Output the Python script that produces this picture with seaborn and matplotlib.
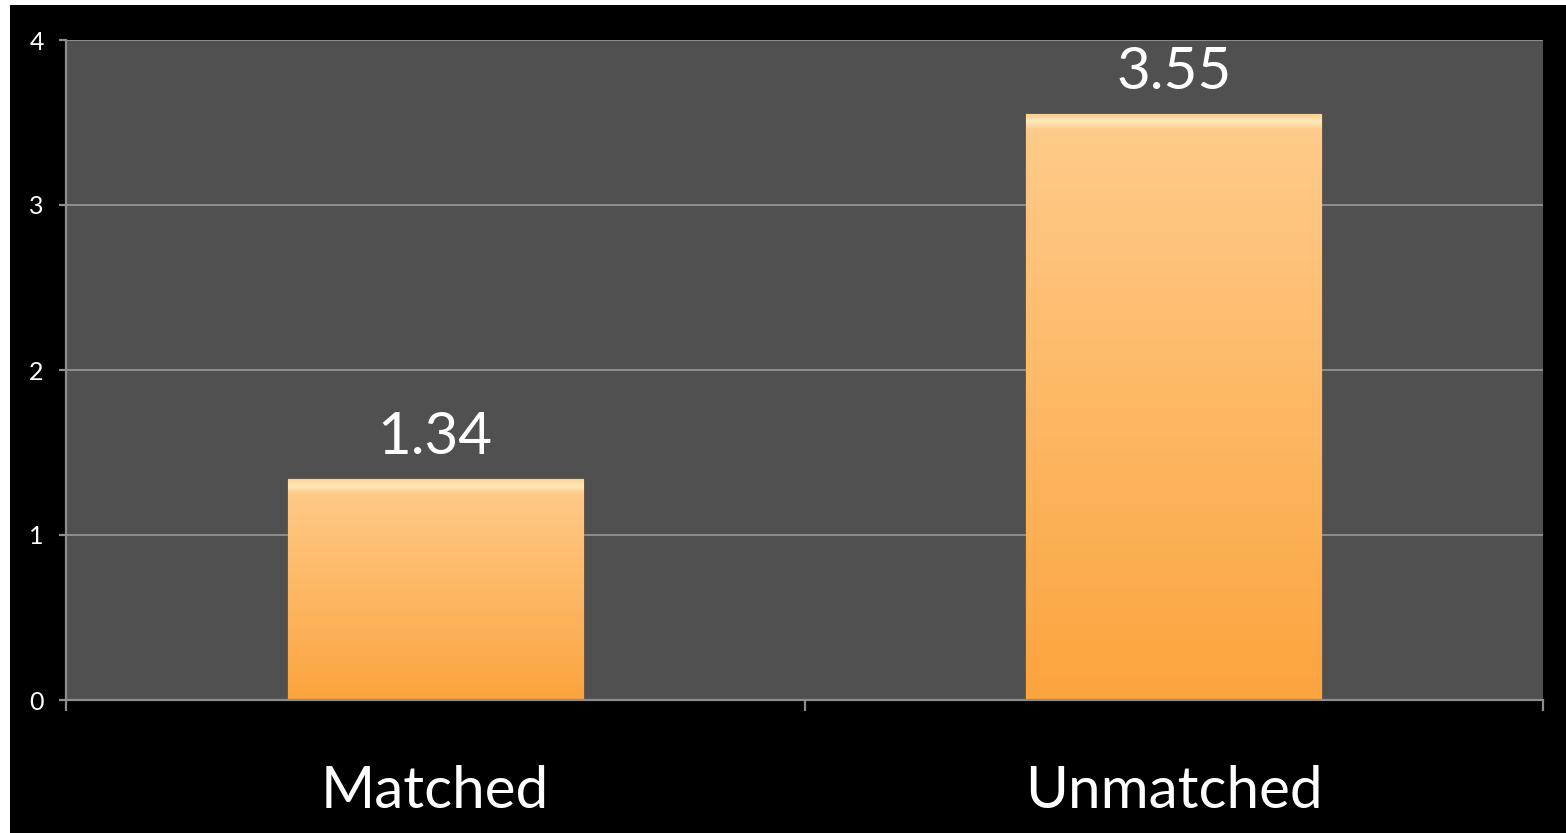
import numpy as np
import pandas as pd
import matplotlib
matplotlib.use("Agg")
import matplotlib.pyplot as plt
from matplotlib.patches import Rectangle
from matplotlib.colors import to_rgb
import seaborn as sns

categories = ["Matched", "Unmatched"]
values = [1.34, 3.55]
value_labels = ["1.34", "3.55"]
yticks = [0, 1, 2, 3, 4]

sns.set_theme(style="dark")
plt.rcParams['font.family'] = ['Lato', 'DejaVu Sans']

W, H, DPI = 1566, 833, 100
fig = plt.figure(figsize=(W / DPI, H / DPI), dpi=DPI, facecolor="white")
fig.patches.append(Rectangle((10 / W, 0), 1 - 10 / W, 1 - 5 / H, transform=fig.transFigure,
                             facecolor="black", edgecolor="none", zorder=-10))
ax = fig.add_axes([66 / W, 1 - 700 / H, (1543 - 66) / W, (700 - 40) / H])
ax.set_facecolor("#505050")

df = pd.DataFrame({"cat": categories, "val": values})
sns.barplot(data=df, x="cat", y="val", ax=ax, width=0.4, color="#FDB866",
            edgecolor="#C9843A", linewidth=1.0, zorder=3)

ax.set_xlim(-0.5, 1.5)
ax.set_ylim(0, 4)
ax.set_yticks(yticks)
ax.set_yticklabels([str(t) for t in yticks])

# grid
ax.grid(False)
for t in yticks[1:]:
    ax.axhline(t, color="#8E8E8E", lw=1.4, zorder=1)

for s in ["top", "right"]:
    ax.spines[s].set_visible(False)
for s in ["left", "bottom"]:
    ax.spines[s].set_visible(True)
    ax.spines[s].set_color("#8E8E8E")
    ax.spines[s].set_linewidth(1.6)
    ax.spines[s].set_zorder(4)

# category boundary ticks
ax.set_xticks([-0.5, 0.5, 1.5])
ax.set_xticklabels([])
ax.set_xticks([0, 1], minor=True)
ax.set_xticklabels(categories, minor=True)
ax.tick_params(axis="x", which="major", direction="out", length=8, width=1.6,
               color="#8E8E8E", bottom=True)
ax.tick_params(axis="x", which="minor", length=0, pad=47, labelsize=42,
               labelcolor="white", bottom=True)
ax.tick_params(axis="y", direction="out", length=5, width=1.6, color="#8E8E8E",
               labelsize=18, labelcolor="white", pad=11, left=True)
ax.set_xlabel("")
ax.set_ylabel("")

# gradient fill on bars
fig.canvas.draw()
top_c = np.array(to_rgb("#FFCC8C"))
bot_c = np.array(to_rgb("#FCA43E"))
hi_c = np.array(to_rgb("#FFEFC6"))
for bar in ax.patches:
    x0, w, h = bar.get_x(), bar.get_width(), bar.get_height()
    p0 = ax.transData.transform((x0, 0))
    p1 = ax.transData.transform((x0 + w, h))
    npx = max(int(round(p1[1] - p0[1])), 2)
    t = np.linspace(0, 1, npx)[:, None]
    col = top_c[None, :] * (1 - t) + bot_c[None, :] * t
    # soft top bevel highlight
    k = np.arange(npx)
    hl = np.exp(-((k - 7) / 5.0) ** 2)[:, None] * 0.75
    col = col * (1 - hl) + hi_c[None, :] * hl
    img = np.repeat(col[:, None, :], 4, axis=1)
    im = ax.imshow(img, extent=(x0, x0 + w, 0, h), aspect="auto", origin="upper",
                   zorder=3.5, interpolation="bilinear")
    im.set_clip_path(bar)

for bar, lab in zip(ax.patches, value_labels):
    ax.annotate(lab, (bar.get_x() + bar.get_width() / 2, bar.get_height()),
                xytext=(0, 11), textcoords="offset points", ha="center", va="bottom",
                color="white", fontsize=42, zorder=6)

ax.set_xlim(-0.5, 1.5)
ax.set_ylim(0, 4)
fig.savefig("out.png", dpi=DPI, facecolor=fig.get_facecolor())
